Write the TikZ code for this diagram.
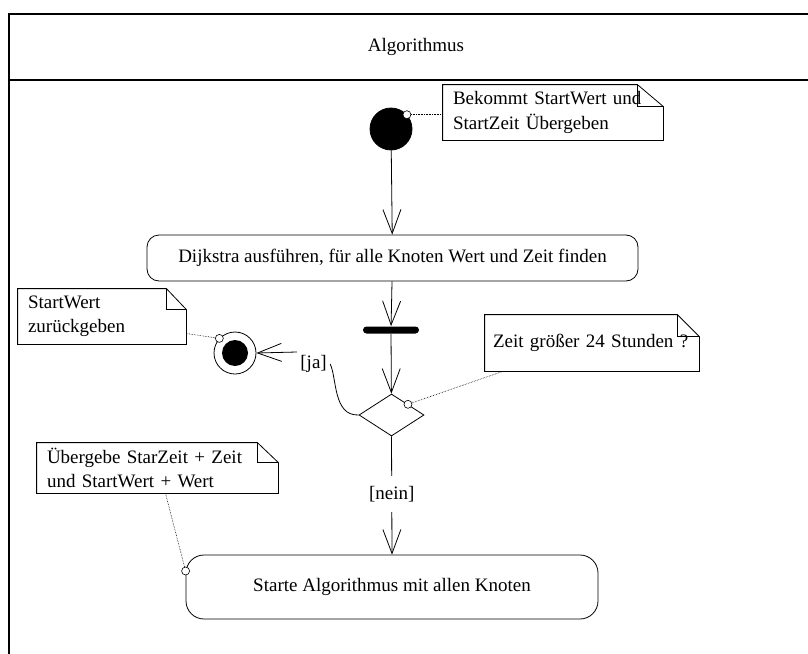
\documentclass[tikz,border=0pt]{standalone}
\usepackage{fontspec}
\setmainfont{Liberation Serif}
\usetikzlibrary{arrows.meta,shapes.geometric,calc}

% outline of a UML note with a folded corner, drawn round a named node
\newcommand\umlnoteframe[3]{% #1 node, #2 fold width, #3 fold height
  \draw[noteline] (#1.north west) -- ([xshift=-#2]#1.north east)
     -- ([yshift=-#3]#1.north east) -- (#1.south east) -- (#1.south west) -- cycle;
  \draw[noteline] ([xshift=-#2]#1.north east) |- ([yshift=-#3]#1.north east);
}

\begin{document}
\begin{tikzpicture}[x=1pt,y=-1pt,line width=0.8pt,
  every node/.style={font=\fontsize{19}{24.5}\selectfont},
  frameline/.style={line width=1.3pt},
  actionbox/.style={draw,rectangle,rounded corners=#1,inner sep=0pt,align=center},
  initialnode/.style={circle,draw,fill=black,inner sep=0pt,minimum size=42pt},
  finalnode/.style={circle,draw,inner sep=0pt,minimum size=42pt,
     path picture={\fill (path picture bounding box.center) circle (13pt);}},
  forkbar/.style={rectangle,fill=black,rounded corners=3.5pt,inner sep=0pt,
     minimum width=56pt,minimum height=7pt},
  decision/.style={diamond,draw,inner sep=0pt,minimum width=65pt,minimum height=42pt},
  flow/.style={-{Straight Barb[length=24pt,width=18pt]}},
  notebox/.style={rectangle,inner xsep=10pt,inner ysep=0pt,align=left},
  noteline/.style={line width=0.8pt},
  link/.style={densely dotted,line width=0.6pt},
  port/.style={circle,draw,fill=white,inner sep=0pt,minimum size=8pt,line width=0.6pt},
  guard/.style={inner sep=3pt}]

\clip (0,0) rectangle (808,653);

% swimlane frame with its title
\draw[frameline] (9,670) -- (9,14) -- (820,14);
\draw[frameline] (9,80) -- (820,80);
\node (title) at (416,47) {Algorithmus};

% activity nodes
\node[initialnode] (start) at (391,129) {};
\node[actionbox=12pt,minimum width=491pt,minimum height=46pt] (a1) at (392.5,258)
  {Dijkstra ausführen, für alle Knoten Wert und Zeit finden};
\node[forkbar] (fork) at (391,330) {};
\node[decision] (d) at (391.5,415) {};
\node[finalnode] (end) at (235,353) {};
\node[actionbox=18pt,minimum width=412pt,minimum height=64pt] (a2) at (392,587)
  {Starte Algorithmus mit allen Knoten};

% notes
\node[notebox,text width=200pt,minimum height=55pt] (n1) at (553,112.5)
  {Bekommt StartWert und\\StartZeit Übergeben};
\umlnoteframe{n1}{26pt}{22pt}
\node[notebox,inner xsep=8pt,text width=198pt,minimum height=56pt] (n2) at (592,343)
  {Zeit größer 24 Stunden ?};
\umlnoteframe{n2}{22pt}{22pt}
\node[notebox,text width=148pt,minimum height=55pt] (n3) at (102,316.5)
  {StartWert\\zurückgeben};
\umlnoteframe{n3}{20pt}{21pt}
\node[notebox,text width=221pt,minimum height=50pt] (n4) at (157.5,468)
  {Übergebe StarZeit + Zeit\\und StartWert + Wert};
\umlnoteframe{n4}{21pt}{20pt}

% control flow
\draw[flow] (start) -- (a1);
\draw[flow] (a1) -- (fork);
\draw[flow] (fork) -- (d);
\draw[flow] (d.south) -- (a2.north)
  node[pos=0.49,fill=white,inner xsep=2pt,inner ysep=10pt] (nein) {[nein]};
\node[guard,anchor=north west] (ja) at (297,352) {[ja]};
\draw (d.west) .. controls (333,416) and (337,378) .. (ja.east);
\draw[flow] (ja.north west) -- (end.east);

% note attachments
\node[port] (p1) at (start.42) {};
\node[port] (p2) at ($(d.north)!0.5!(d.east)$) {};
\node[port] (p3) at (end.137) {};
\node[port] (p4) at ([yshift=16pt]a2.west) {};
\draw[link] (p1) -- (p1 -| n1.west);
\draw[link] (p2) -- ([xshift=18pt]n2.south west);
\draw[link] (p3) -- ([yshift=-17pt]n3.east);
\draw[link] (p4) -- ([xshift=8pt]n4.south);
\end{tikzpicture}
\end{document}
